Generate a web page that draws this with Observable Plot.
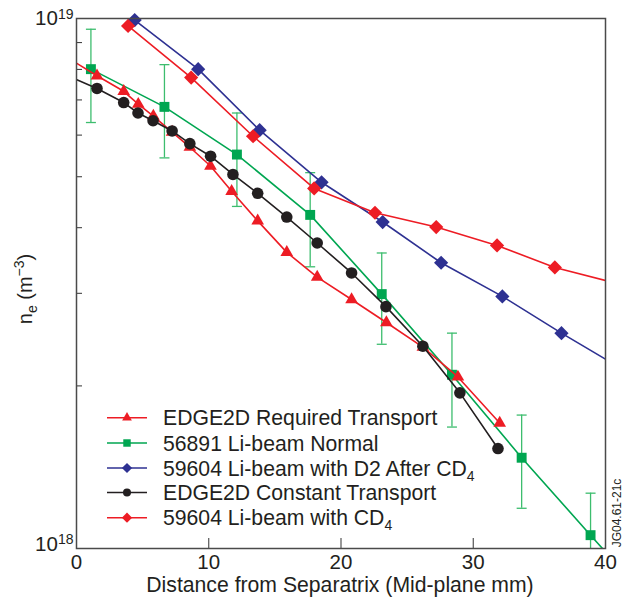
<!DOCTYPE html>
<html><head><meta charset="utf-8">
<script src="https://cdn.jsdelivr.net/npm/d3@7"></script>
<script src="https://cdn.jsdelivr.net/npm/@observablehq/plot@0.6"></script>
<style>
body{margin:0;background:#fff;}
#chart{width:626px;height:600px;}
</style></head><body><div id="chart"></div>
<script>
// Values of n_e in units of 1e18 m^-3; x in mm from separatrix.
// Points outside [0,40] only continue the lines to the frame edge (clipped, no marker).
const reqX  = [-1, 1.55, 3.57, 4.67, 5.81, 7.23, 8.57, 10.13, 11.73, 13.7, 15.9, 18.2, 20.8, 23.43, 26.19, 28.84, 32.0];
const reqY  = [8.52, 7.78, 7.27, 6.87, 6.52, 6.08, 5.69, 5.24, 4.69, 4.12, 3.59, 3.22, 2.92, 2.64, 2.37, 2.08, 1.70];

const normX  = [1.09, 6.65, 12.13, 17.67, 23.08, 28.39, 33.66, 38.87, 42];
const normY  = [8.01, 6.79, 5.51, 4.23, 2.99, 2.10, 1.46, 1.04, 0.849];
const normHi = [9.54, 8.17, 6.61, 5.09, 3.58, 2.52, 1.76, 1.25, null];
const normLo = [6.34, 5.43, 4.39, 3.37, 2.40, 1.67, 1.17, 0.86, null];

const d2X = [4.4, 9.2, 13.85, 18.53, 23.15, 27.57, 32.2, 36.67, 42];
const d2Y = [9.93, 8.01, 6.13, 4.88, 4.10, 3.43, 2.96, 2.52, 2.10];

const constX = [-1, 1.55, 3.57, 4.65, 5.79, 7.23, 8.57, 10.14, 11.83, 13.7, 15.9, 18.2, 20.8, 23.4, 26.19, 28.99, 31.87];
const constY = [7.85, 7.36, 6.92, 6.61, 6.39, 6.11, 5.78, 5.47, 5.05, 4.65, 4.19, 3.74, 3.28, 2.83, 2.38, 1.94, 1.52];

const cd4X = [3.9, 8.67, 13.35, 17.97, 22.57, 27.2, 31.8, 36.17, 42];
const cd4Y = [9.68, 7.72, 5.97, 4.75, 4.27, 4.01, 3.70, 3.36, 3.08];

const xTickValues = [0, 10, 20, 30, 40];
const yLabelTicks = [1, 10];
const yMinorTicks = [2, 3, 4, 5, 6, 7, 8, 9];
const xInnerTicks = [10, 20, 30];

const legendLabels = [
  ["EDGE2D Required Transport"],
  ["56891 Li-beam Normal"],
  ["59604 Li-beam with D2 After CD", "4"],
  ["EDGE2D Constant Transport"],
  ["59604 Li-beam with CD", "4"]
];

const RED = "#ED1C24", GREEN = "#00A651", BLUE = "#2E3192", BLACK = "#231F20", ERR = "#3dbd6e";
const FONT = '"Liberation Sans", Arial, Helvetica, sans-serif';

const series = [
  {x: reqX,   y: reqY,   color: RED,   symbol: "triangle", r: 4.7, lr: 3.6},
  {x: normX,  y: normY,  color: GREEN, symbol: "square",   r: 5.6, lr: 4.2},
  {x: d2X,    y: d2Y,    color: BLUE,  symbol: "diamond2", r: 6.4, lr: 4.6},
  {x: constX, y: constY, color: BLACK, symbol: "circle",   r: 5.8, lr: 4.0},
  {x: cd4X,   y: cd4Y,   color: RED,   symbol: "diamond2", r: 6.4, lr: 4.6}
];
const drawOrder = [1, 0, 2, 4, 3];

const W = 626, H = 600, mL = 76, mR = 21, mT = 18, mB = 52;
const frameW = W - mL - mR, frameH = H - mT - mB;

const rowsOf = s => s.x.map((v, i) => ({x: v, y: s.y[i]}));
const inside = d => d.x >= 0 && d.x <= 40;

const errRows = normX.map((v, i) => ({x: v, lo: normLo[i], hi: normHi[i]})).filter(d => d.hi != null);
const capSymbol = {draw(ctx) { ctx.moveTo(-5, 0); ctx.lineTo(5, 0); }};

const marks = [
  Plot.ruleX(errRows, {x: "x", y1: "lo", y2: "hi", stroke: ERR, strokeWidth: 1.3, clip: true}),
  Plot.dot(errRows, {x: "x", y: "hi", symbol: capSymbol, stroke: ERR, strokeWidth: 1.3, clip: true}),
  Plot.dot(errRows, {x: "x", y: "lo", symbol: capSymbol, stroke: ERR, strokeWidth: 1.3, clip: true})
];
for (const k of drawOrder) {
  const s = series[k];
  const rows = rowsOf(s);
  marks.push(Plot.line(rows, {x: "x", y: "y", stroke: s.color, strokeWidth: 1.6, clip: true}));
  marks.push(Plot.dot(rows.filter(inside), {x: "x", y: "y", symbol: s.symbol, r: s.r, fill: s.color, stroke: "none"}));
}
marks.push(
  Plot.tickY(yMinorTicks, {y: d => d, insetRight: frameW - 6, stroke: "#444", strokeWidth: 1.1}),
  Plot.tickX(xInnerTicks, {x: d => d, insetTop: frameH - 10, stroke: "#444", strokeWidth: 1.1}),
  Plot.frame({stroke: "#4a4a4a", strokeWidth: 1.5}),
  Plot.axisX({ticks: xTickValues, tickSize: 0, tickPadding: 6, tickFormat: d => String(d), fill: "#231F20", label: null}),
  Plot.axisY({ticks: yLabelTicks, tickSize: 0, tickPadding: 3, tickFormat: d => d === 1 ? "10^18" : "10^19", fill: "#231F20", label: null})
);

const chart = Plot.plot({
  width: W, height: H,
  marginLeft: mL, marginRight: mR, marginTop: mT, marginBottom: mB,
  style: {fontFamily: FONT, fontSize: "20.5px", background: "#fff", color: "#231F20"},
  x: {domain: [0, 40], axis: null, label: null},
  y: {type: "log", domain: [0.981, 10], axis: null, label: null},
  marks
});
document.getElementById("chart").appendChild(chart);

const svg = d3.select(chart);

// superscripts on the y tick labels
svg.selectAll('[aria-label="y-axis tick label"] text').each(function() {
  const t = d3.select(this);
  const parts = t.text().split("^");
  if (parts.length === 2) {
    t.text(null);
    t.append("tspan").text(parts[0]);
    t.append("tspan").attr("dy", "-0.45em").attr("font-size", "14px").text(parts[1]);
  }
});

// y-axis title: n_e (m^-3)
const yt = svg.append("text")
  .attr("transform", "translate(32,289) rotate(-90)")
  .attr("text-anchor", "middle")
  .attr("font-family", FONT).attr("font-size", 20).attr("fill", "#231F20");
yt.append("tspan").text("n");
yt.append("tspan").attr("font-size", 14).attr("dy", 5).text("e");
yt.append("tspan").attr("dy", -5).text(" (m");
yt.append("tspan").attr("font-size", 14).attr("dy", -8).text("\u22123");
yt.append("tspan").attr("dy", 8).text(")");

// x-axis title
svg.append("text")
  .attr("x", 340).attr("y", 592)
  .attr("text-anchor", "middle")
  .attr("font-family", FONT).attr("font-size", 21.2).attr("fill", "#231F20")
  .text("Distance from Separatrix (Mid-plane mm)");

// figure code
svg.append("text")
  .attr("transform", "translate(621,513) rotate(-90)")
  .attr("text-anchor", "middle")
  .attr("font-family", FONT).attr("font-size", 12).attr("fill", "#231F20")
  .text("JG04.61-21c");

// legend
const lg = svg.append("g");
const rowY = [417.7, 443, 468, 492.5, 517.7];
const symMap = {triangle: d3.symbolTriangle, square: d3.symbolSquare, diamond2: d3.symbolDiamond2, circle: d3.symbolCircle};
series.forEach((s, i) => {
  const y = rowY[i];
  lg.append("line").attr("x1", 107).attr("x2", 147).attr("y1", y).attr("y2", y)
    .attr("stroke", s.color).attr("stroke-width", 1.6);
  lg.append("path")
    .attr("d", d3.symbol(symMap[s.symbol], Math.PI * s.lr * s.lr)())
    .attr("transform", `translate(127,${y})`)
    .attr("fill", s.color);
  const t = lg.append("text").attr("x", 163).attr("y", y + 7.5)
    .attr("text-anchor", "start")
    .attr("font-family", FONT).attr("font-size", 21.2).attr("fill", "#231F20");
  const lab = legendLabels[i];
  t.append("tspan").text(lab[0]);
  if (lab[1]) t.append("tspan").attr("font-size", 14).attr("dy", 5).text(lab[1]);
});
</script>
</body></html>
